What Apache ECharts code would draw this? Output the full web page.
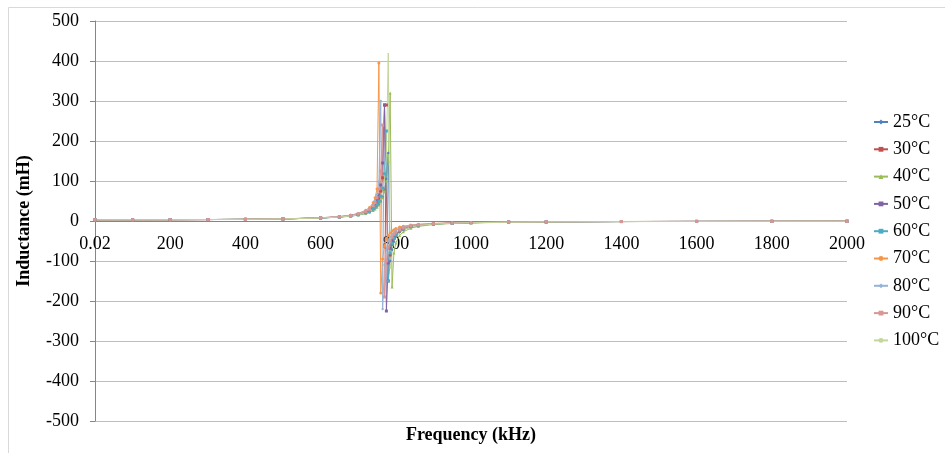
<!DOCTYPE html>
<html lang="en">
<head>
<meta charset="UTF-8">
<title>Inductance vs Frequency</title>
<script src="https://cdn.jsdelivr.net/npm/echarts@6/dist/echarts.min.js"></script>
<style>
  html, body { margin: 0; padding: 0; background: #fff; }
  #chart { width: 945px; height: 453px; }
</style>
</head>
<body>
<div id="chart"></div>
<script>
// frequency points (kHz), shared by all series
var freq = [0.02, 100, 200, 300, 400, 500, 600, 650, 680, 700, 720, 730, 740, 745, 750, 755, 760, 765, 770, 775,
  780, 785, 790, 795, 800, 810, 820, 840, 860, 900, 950, 1000, 1100, 1200, 1400, 1600, 1800, 2000];

// inductance (mH) per temperature
var t25 = [3.2, 3.2, 3.4, 3.7, 4.2, 5.2, 7.4, 9.8, 12.3, 14.8, 19, 22, 27, 30.5, 35, 41, 49, 60, 77, 105,
  170, -100, -72, -52, -40, -28, -22, -15, -11.5, -7.8, -5.6, -4.3, -3, -2.3, -1.4, -1, -0.8, -0.6];
var t30 = [3.1, 3.2, 3.3, 3.6, 4.2, 5.2, 7.6, 10.2, 13, 16.2, 21.5, 26, 33, 38.5, 46, 57, 75, 108, 290, 290,
  -150, -85, -58, -44, -36, -26, -20, -14, -11, -7.4, -5.3, -4.1, -2.9, -2.2, -1.4, -1, -0.8, -0.6];
var t40 = [3.2, 3.2, 3.4, 3.7, 4.2, 5.2, 7.4, 9.8, 12.2, 14.7, 18.8, 22, 26.5, 30, 34.5, 40, 48, 59, 75, 100,
  150, 320, -165, -80, -55, -36, -27, -18, -13.5, -8.8, -6.2, -4.7, -3.2, -2.4, -1.5, -1.1, -0.8, -0.6];
var t50 = [3.1, 3.2, 3.3, 3.6, 4.2, 5.3, 7.7, 10.4, 13.4, 16.8, 22.5, 27.5, 35.5, 42, 51, 65, 90, 145, 290, -225,
  -105, -68, -50, -40, -33, -24, -19, -13.5, -10.5, -7.1, -5.1, -4, -2.8, -2.1, -1.3, -1, -0.7, -0.5];
var t60 = [3.1, 3.2, 3.3, 3.6, 4.2, 5.2, 7.5, 10, 12.7, 15.6, 20.5, 24.5, 30.5, 35, 41, 49, 62, 82, 118, 225,
  -150, -80, -56, -43, -35, -25, -20, -14, -11, -7.5, -5.4, -4.2, -2.9, -2.2, -1.4, -1, -0.8, -0.6];
var t70 = [3.0, 3.1, 3.2, 3.6, 4.2, 5.4, 8.1, 11.2, 14.8, 19, 27, 34, 46, 58, 80, 395, -180, -95, -62, -45,
  -36, -30, -25, -22, -19, -15, -13, -10, -8, -6, -4.5, -3.6, -2.5, -1.9, -1.2, -0.9, -0.7, -0.5];
var t80 = [3.0, 3.1, 3.2, 3.6, 4.2, 5.3, 7.9, 10.9, 14.2, 18, 25, 31, 41, 50, 66, 98, 300, -220, -110, -70,
  -50, -40, -33, -28, -24, -18, -15, -11, -9, -6.5, -4.8, -3.8, -2.7, -2, -1.3, -0.9, -0.7, -0.5];
var t90 = [3.0, 3.1, 3.2, 3.5, 4.1, 5.2, 7.7, 10.5, 13.7, 17.2, 23.5, 29, 38, 46, 58, 80, 125, 240, -190, -100,
  -66, -50, -40, -33, -28, -21, -17, -12, -10, -7, -5, -4, -2.8, -2.1, -1.3, -1, -0.7, -0.5];
var t100 = [3.1, 3.2, 3.3, 3.6, 4.2, 5.2, 7.5, 10, 12.6, 15.4, 20, 24, 29.5, 34, 39.5, 47, 58, 76, 105, 165,
  420, -120, -70, -50, -40, -28, -22, -15, -11.5, -7.7, -5.5, -4.3, -3, -2.3, -1.4, -1, -0.8, -0.6];

var names = ['25°C', '30°C', '40°C', '50°C', '60°C', '70°C', '80°C', '90°C', '100°C'];
var values = [t25, t30, t40, t50, t60, t70, t80, t90, t100];
var colors = ['#4F81BD', '#C0504D', '#9BBB59', '#8064A2', '#4BACC6', '#F79646', '#95B3D7', '#D99694', '#C3D69B'];
var symbols = ['diamond', 'rect', 'triangle', 'rect', 'rect', 'circle', 'diamond', 'rect', 'none'];

var font = 'Liberation Serif';

var series = [];
for (var s = 0; s < names.length; s++) {
  var pts = [];
  for (var i = 0; i < freq.length; i++) {
    pts.push([freq[i], values[s][i]]);
  }
  series.push({
    name: names[s],
    type: 'line',
    data: pts,
    symbol: symbols[s],
    symbolSize: 3,
    showSymbol: true,
    lineStyle: { width: 1, color: colors[s] },
    itemStyle: { color: colors[s] },
    animation: false
  });
}

var chart = echarts.init(document.getElementById('chart'));
chart.setOption({
  animation: false,
  color: colors,
  grid: { left: 95, right: 98, top: 21, bottom: 32, containLabel: false },
  legend: {
    orient: 'vertical',
    left: 868,
    top: 108,
    itemWidth: 14,
    itemHeight: 6,
    itemGap: 9.3,
    textStyle: { fontFamily: font, fontSize: 18, color: '#000', lineHeight: 18 },
    data: names
  },
  xAxis: {
    type: 'value',
    min: 0,
    max: 2000,
    interval: 200,
    // the axis sits on the zero line, 200px above the bottom of the grid
    offset: -200,
    axisLine: { onZero: false, lineStyle: { color: '#868686' } },
    axisTick: { show: false },
    splitLine: { show: false },
    axisLabel: {
      fontFamily: font, fontSize: 18, color: '#000', margin: 14,
      formatter: function (v) { return v === 0 ? '0.02' : String(v); }
    }
  },
  yAxis: {
    type: 'value',
    min: -500,
    max: 500,
    interval: 100,
    name: 'Inductance (mH)',
    nameLocation: 'middle',
    nameGap: 62,
    nameTextStyle: { fontFamily: font, fontSize: 18, fontWeight: 'bold', color: '#000' },
    axisLine: { show: true, lineStyle: { color: '#868686' } },
    axisTick: { show: true, length: 5, lineStyle: { color: '#868686' } },
    splitLine: { lineStyle: { color: '#bdbdbd', width: 1 } },
    axisLabel: { fontFamily: font, fontSize: 18, color: '#000', margin: 16 }
  },
  graphic: [
    {
      type: 'rect',
      shape: { x: 8.5, y: 7.5, width: 1000, height: 500 },
      style: { fill: 'none', stroke: '#d9d9d9', lineWidth: 1 },
      silent: true
    },
    {
      type: 'text',
      x: 471,
      y: 435,
      style: {
        text: 'Frequency (kHz)',
        align: 'center',
        verticalAlign: 'middle',
        fontFamily: font, fontSize: 18, fontWeight: 'bold', fill: '#000'
      }
    }
  ],
  series: series
});
</script>
</body>
</html>
